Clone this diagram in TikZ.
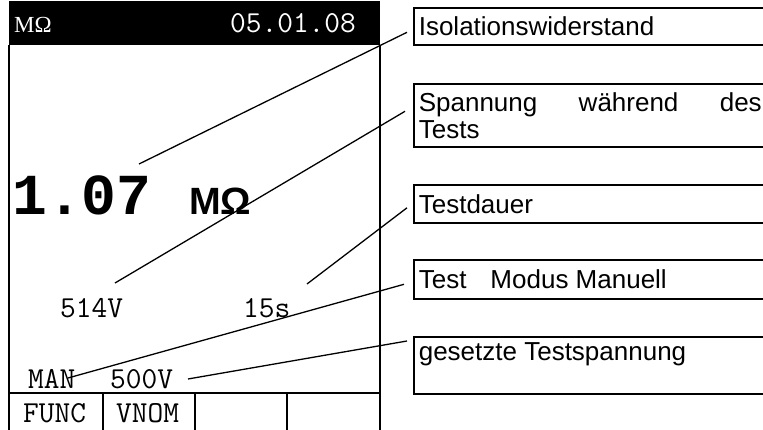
\documentclass[tikz,border=0pt]{standalone}
\usepackage{fontspec}
\newfontfamily\arialfont{Liberation Sans}
\newfontfamily\timesfont{Liberation Serif}
\newfontfamily\courbold{Liberation Mono}
\usetikzlibrary{positioning,calc}

\begin{document}
\begin{tikzpicture}[x=1pt,y=-1pt,
    infobox/.style={draw, line width=1.6pt, anchor=north west, text width=343pt, align=justify,
        inner xsep=5pt, inner ysep=2pt, font=\arialfont\fontsize{26}{27}\selectfont},
    lcd/.style={inner sep=0pt, anchor=base west, font=\ttfamily\fontsize{30.5}{31}\selectfont},
    leader/.style={line width=1.3pt}]
    \useasboundingbox (0,0) rectangle (763,430);
    \clip (0,0) rectangle (763,430);

    % Display
    \fill[black] (9,1) rectangle (380,45);  % Header bar
    \draw[line width=1.6pt] (9,45) -- (9,440) (380,45) -- (380,440);  % Frame
    \draw[line width=1.6pt] (9,393) -- (380,393);  % Soft key row
    \foreach \x in {103,195,287} {
        \draw[line width=1.6pt] (\x,393) -- (\x,440);
    }

    % Display texts
    \node[lcd, white, font=\timesfont\fontsize{23}{24}\selectfont] (unit) at (14,33) {MΩ};
    \node[lcd, white] (date) at (230,33) {05.01.08};
    \node[lcd, font=\courbold\bfseries\fontsize{58}{58}\selectfont] (rval) at (12,215) {1.07};
    \node[lcd, font=\arialfont\bfseries\fontsize{38}{38}\selectfont] (runit) at (189,215) {MΩ};
    \node[lcd] (vtest) at (60,317) {514V};
    \node[lcd] (dur) at (243,317) {15s};
    \node[lcd] (mode) at (28,388) {MAN};
    \node[lcd] (vnom) at (110,388) {500V};
    \node[lcd] (kfunc) at (23,422) {FUNC};
    \node[lcd] (kvnom) at (116,422) {VNOM};

    % Explanations
    \node[infobox, minimum height=37pt] (isol) at (413,7) {Isolationswiderstand};
    \node[infobox, minimum height=63pt] (utest) at (413,83) {Spannung während des\linebreak Tests};
    \node[infobox, minimum height=38pt] (tdur) at (413,184) {Testdauer};
    \node[infobox, minimum height=39pt] (tmode) at (413,259) {Test\hspace{24pt}Modus Manuell};
    \node[infobox, minimum height=57pt] (tset) at (413,336) {gesetzte Testspannung\\\mbox{}};

    % Leader lines
    \coordinate (p1) at (139,164);
    \coordinate (p2) at (115,283);
    \coordinate (p3) at (307,284);
    \coordinate (p4) at (68,378);
    \coordinate (p5) at (188,379);
    \draw[leader] (p1) -- ($(isol.west)+(-6,6)$);
    \draw[leader] (p2) -- ($(utest.west)+(-8,-4)$);
    \draw[leader] (p3) -- ($(tdur.west)+(-6,4)$);
    \draw[leader] (p4) -- ($(tmode.west)+(-9,5)$);
    \draw[leader] (p5) -- ($(tset.north west)+(-6,5)$);
\end{tikzpicture}
\end{document}
